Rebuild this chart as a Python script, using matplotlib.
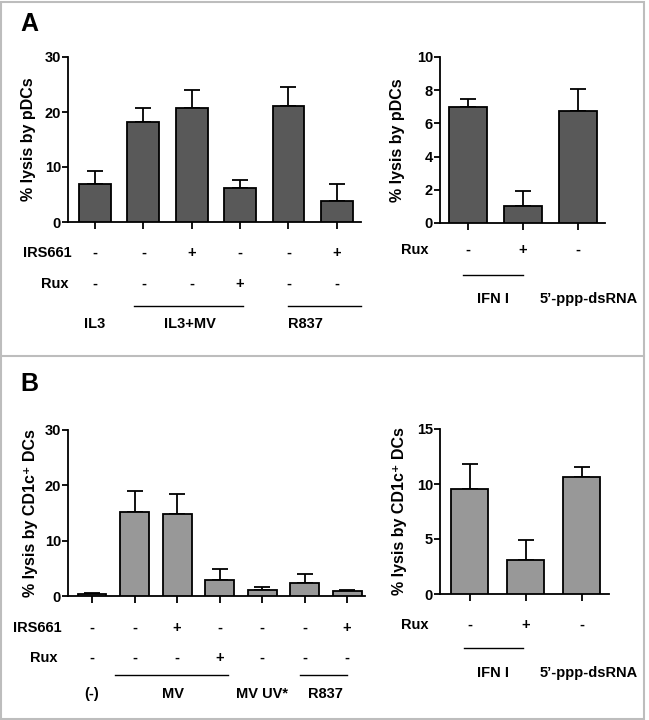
import matplotlib
matplotlib.use("Agg")
import matplotlib.pyplot as plt
import matplotlib.transforms as mtransforms
from matplotlib.patches import Rectangle
from matplotlib.lines import Line2D

plt.rcParams['font.family'] = ['Liberation Sans', 'DejaVu Sans']
plt.rcParams['font.weight'] = 'bold'
plt.rcParams['font.size'] = 10

W, H = 649, 720

# Panel A, pDCs
a_left_vals = [7.0, 18.2, 20.7, 6.2, 21.1, 3.8]
a_left_err = [2.3, 2.6, 3.3, 1.5, 3.5, 3.05]
a_left_irs = ['-', '-', '+', '-', '-', '+']
a_left_rux = ['-', '-', '-', '+', '-', '-']
a_left_groups = ['IL3', 'IL3+MV', 'R837']

a_right_vals = [7.0, 1.0, 6.75]
a_right_err = [0.45, 0.95, 1.3]
a_right_rux = ['-', '+', '-']
a_right_groups = ['IFN I', '5\u2019-ppp-dsRNA']

# Panel B, CD1c+ DCs
b_left_vals = [0.4, 15.2, 14.9, 2.9, 1.1, 2.35, 0.85]
b_left_err = [0.15, 3.8, 3.5, 2.0, 0.5, 1.7, 0.25]
b_left_irs = ['-', '-', '+', '-', '-', '-', '+']
b_left_rux = ['-', '-', '-', '+', '-', '-', '-']
b_left_groups = ['(-)', 'MV', 'MV UV*', 'R837']

b_right_vals = [9.55, 3.1, 10.6]
b_right_err = [2.3, 1.8, 0.95]
b_right_rux = ['-', '+', '-']
b_right_groups = ['IFN I', '5\u2019-ppp-dsRNA']

fig = plt.figure(figsize=(W / 100, H / 100), dpi=100)


def fy(ypx):
    return 1 - ypx / H


def make_axes(x0, x1, ytop, ybot):
    return fig.add_axes([x0 / W, 1 - ybot / H, (x1 - x0) / W, (ybot - ytop) / H])


def bar_panel(ax, vals, errs, color, width, xlim, ylim, yticks, ylabel, labx):
    x = list(range(len(vals)))
    ax.bar(x, vals, width=width, color=color, edgecolor='black', linewidth=1.3, zorder=3)
    ax.errorbar(x, vals, yerr=[[0] * len(errs), errs], fmt='none', ecolor='black',
                elinewidth=1.3, capsize=6, capthick=1.3, zorder=2)
    ax.set_xlim(*xlim)
    ax.set_ylim(*ylim)
    ax.set_yticks(yticks)
    ax.set_xticks(x)
    ax.set_xticklabels([])
    for s in ['top', 'right']:
        ax.spines[s].set_visible(False)
    for s in ['left', 'bottom']:
        ax.spines[s].set_linewidth(1.3)
    ax.tick_params(axis='y', length=4, width=1.3, pad=1, labelsize=10.5)
    ax.tick_params(axis='x', length=5, width=1.3)
    ax.set_ylabel(ylabel, fontsize=11.5, fontweight='bold')
    ax.yaxis.set_label_coords(labx, 0.5)
    ax.patch.set_visible(False)


def row(ax, signs, ypx, label, label_xpx):
    tr = mtransforms.blended_transform_factory(ax.transData, fig.transFigure)
    for i, s in enumerate(signs):
        ax.text(i, fy(ypx), s, transform=tr, ha='center', va='center', fontsize=10.5)
    fig.text(label_xpx / W, fy(ypx), label, ha='right', va='center', fontsize=10.5)


def underline(ax, x0, x1, ypx):
    tr = mtransforms.blended_transform_factory(ax.transData, fig.transFigure)
    ax.add_line(Line2D([x0, x1], [fy(ypx), fy(ypx)], transform=tr, color='black',
                       linewidth=1.0, clip_on=False))


def group_text(ax, names, xs, ypx):
    tr = mtransforms.blended_transform_factory(ax.transData, fig.transFigure)
    for n, xx in zip(names, xs):
        ax.text(xx, fy(ypx), n, transform=tr, ha='center', va='center', fontsize=10.5)


dark = '#595959'
light = '#989898'

# A left
ax1 = make_axes(68, 361, 57, 222)
bar_panel(ax1, a_left_vals, a_left_err, dark, 0.66, (-0.56, 5.5), (0, 30), [0, 10, 20, 30],
          '% lysis by pDCs', -0.11)
row(ax1, a_left_irs, 253, 'IRS661', 72)
row(ax1, a_left_rux, 284, 'Rux', 68)
underline(ax1, 0.8, 3.05, 306)
underline(ax1, 4.0, 5.5, 306)
group_text(ax1, a_left_groups, [0, 1.97, 4.35], 324)

# A right
ax2 = make_axes(440, 605, 57, 223)
bar_panel(ax2, a_right_vals, a_right_err, dark, 0.69, (-0.51, 2.49), (0, 10), [0, 2, 4, 6, 8, 10],
          '% lysis by pDCs', -0.21)
row(ax2, a_right_rux, 250, 'Rux', 429)
underline(ax2, -0.1, 1.0, 275)
group_text(ax2, a_right_groups, [0.45, 2.2], 299)

# B left
ax3 = make_axes(68, 365, 430, 596)
bar_panel(ax3, b_left_vals, b_left_err, light, 0.68, (-0.565, 6.42), (0, 30), [0, 10, 20, 30],
          '% lysis by CD1c\u207a DCs', -0.10)
row(ax3, b_left_irs, 628, 'IRS661', 62)
row(ax3, b_left_rux, 658, 'Rux', 58)
underline(ax3, 0.53, 3.19, 675)
underline(ax3, 4.9, 6.0, 675)
group_text(ax3, b_left_groups, [0, 1.9, 4.0, 5.5], 694)

# B right
ax4 = make_axes(440, 609, 429, 594)
bar_panel(ax4, b_right_vals, b_right_err, light, 0.67, (-0.53, 2.49), (0, 15), [0, 5, 10, 15],
          '% lysis by CD1c\u207a DCs', -0.195)
row(ax4, b_right_rux, 625, 'Rux', 429)
underline(ax4, -0.1, 0.95, 648)
group_text(ax4, b_right_groups, [0.42, 2.12], 673)

# panel letters and frame
fig.text(20 / W, fy(24), 'A', fontsize=18, fontweight='bold', va='center', ha='left')
fig.text(20 / W, fy(360 + 24), 'B', fontsize=18, fontweight='bold', va='center', ha='left')
fig.add_artist(Rectangle((1 / W, 1 / H), 643 / W, 717 / H, transform=fig.transFigure,
                         fill=False, edgecolor='#bdbdbd', linewidth=1.5))
fig.add_artist(Line2D([1 / W, 644 / W], [fy(356), fy(356)], transform=fig.transFigure,
                      color='#bdbdbd', linewidth=1.5))

fig.savefig('out.png', dpi=100)
